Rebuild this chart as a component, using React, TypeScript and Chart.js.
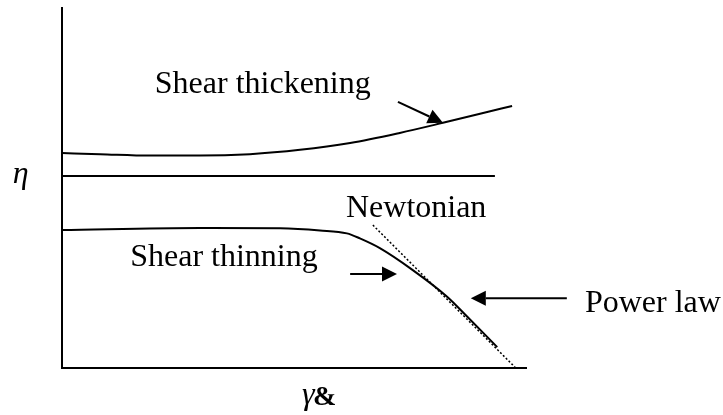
import React, { useEffect, useRef } from "react";
import { Chart, registerables } from "chart.js";

Chart.register(...registerables);

// Axes in arbitrary units: x = shear rate (0..100), y = viscosity (0..100)
const thickeningX = [0, 8.2, 19.0, 29.7, 40.5, 51.3, 62.1, 72.8, 82.1, 90.1, 97.0];
const thickeningY = [59.7, 59.4, 59.0, 59.0, 59.4, 60.6, 62.5, 65.3, 68.1, 70.6, 72.8];

const newtonianX = [0, 93.3];
const newtonianY = [53.3, 53.3];

const thinningX = [0, 29.7, 47.0, 55.6, 61.4, 64.2, 68.5, 75.6, 83.0, 87.3, 93.8];
const thinningY = [38.3, 38.9, 38.8, 38.2, 37.4, 36.0, 33.3, 27.2, 19.8, 14.3, 5.8];

const powerLawX = [67.0, 97.8];
const powerLawY = [39.7, 0];

// arrows: [fromX, fromY, toX, toY]
const arrowFromX = [72.4, 62.1, 108.8];
const arrowFromY = [73.9, 26.1, 19.4];
const arrowToX = [82.1, 72.2, 88.1];
const arrowToY = [68.1, 26.1, 19.4];

// labels
const labelTexts = ["Shear thickening", "Newtonian", "Shear thinning", "Power law"];
const labelX = [20.0, 61.2, 14.7, 112.7];
const labelY = [76.4, 41.9, 28.3, 15.6];

const yAxisSymbol = "η";
const yAxisSymbolX = -10.6;
const yAxisSymbolY = 51.4;
const xAxisSymbol = ["γ", "&"];
const xAxisSymbolX = [51.7, 54.1];
const xAxisSymbolY = [-10.0, -10.3];

const toPts = (xs: number[], ys: number[]) => xs.map((x, i) => ({ x, y: ys[i] }));

const FONT = "'Liberation Serif', 'Times New Roman', serif";

const annotations = {
  id: "annotations",
  afterDatasetsDraw(chart: any) {
    const ctx = chart.ctx as CanvasRenderingContext2D;
    const xs = chart.scales.x;
    const ys = chart.scales.y;
    ctx.save();
    ctx.strokeStyle = "#000";
    ctx.fillStyle = "#000";
    ctx.lineWidth = 2;
    for (let i = 0; i < arrowFromX.length; i++) {
      const x1 = xs.getPixelForValue(arrowFromX[i]);
      const y1 = ys.getPixelForValue(arrowFromY[i]);
      const x2 = xs.getPixelForValue(arrowToX[i]);
      const y2 = ys.getPixelForValue(arrowToY[i]);
      const ang = Math.atan2(y2 - y1, x2 - x1);
      const headLen = 15;
      const headW = 7.5;
      const bx = x2 - headLen * Math.cos(ang);
      const by = y2 - headLen * Math.sin(ang);
      ctx.beginPath();
      ctx.moveTo(x1, y1);
      ctx.lineTo(bx, by);
      ctx.stroke();
      ctx.beginPath();
      ctx.moveTo(x2, y2);
      ctx.lineTo(bx + headW * Math.sin(ang), by - headW * Math.cos(ang));
      ctx.lineTo(bx - headW * Math.sin(ang), by + headW * Math.cos(ang));
      ctx.closePath();
      ctx.fill();
    }
    ctx.textBaseline = "alphabetic";
    ctx.textAlign = "left";
    ctx.font = `32px ${FONT}`;
    for (let i = 0; i < labelTexts.length; i++) {
      ctx.fillText(labelTexts[i], xs.getPixelForValue(labelX[i]), ys.getPixelForValue(labelY[i]));
    }
    ctx.font = `italic 32px ${FONT}`;
    ctx.fillText(yAxisSymbol, xs.getPixelForValue(yAxisSymbolX), ys.getPixelForValue(yAxisSymbolY));
    ctx.font = `italic 32px ${FONT}`;
    ctx.fillText(xAxisSymbol[0], xs.getPixelForValue(xAxisSymbolX[0]), ys.getPixelForValue(xAxisSymbolY[0]));
    ctx.font = `bold 28px ${FONT}`;
    ctx.fillText(xAxisSymbol[1], xs.getPixelForValue(xAxisSymbolX[1]), ys.getPixelForValue(xAxisSymbolY[1]));
    ctx.restore();
  },
};

export default function App() {
  const ref = useRef<HTMLCanvasElement | null>(null);
  useEffect(() => {
    if (!ref.current) return;
    const line = (xs: number[], ys: number[], extra: any = {}) => ({
      data: toPts(xs, ys),
      showLine: true,
      borderColor: "#000",
      borderWidth: 2,
      pointRadius: 0,
      tension: 0.4,
      cubicInterpolationMode: "monotone",
      clip: false,
      ...extra,
    });
    const chart = new Chart(ref.current, {
      type: "scatter",
      data: {
        datasets: [
          line(thickeningX, thickeningY),
          line(newtonianX, newtonianY, { tension: 0 }),
          line(thinningX, thinningY),
          line(powerLawX, powerLawY, { tension: 0, borderWidth: 1.5, borderDash: [2, 2] }),
        ] as any,
      },
      options: {
        responsive: false,
        animation: false,
        events: [],
        layout: { padding: { left: 54, top: 8, right: 197, bottom: 39 } },
        plugins: { legend: { display: false }, tooltip: { enabled: false } },
        scales: {
          x: {
            type: "linear",
            min: 0,
            max: 100,
            grid: { display: false },
            ticks: { display: false },
            border: { display: true, color: "#000", width: 2 },
          },
          y: {
            type: "linear",
            min: 0,
            max: 100,
            grid: { display: false },
            ticks: { display: false },
            border: { display: true, color: "#000", width: 2 },
          },
        },
      } as any,
      plugins: [annotations],
    });
    return () => chart.destroy();
  }, []);
  return (
    <div style={{ position: "fixed", left: 0, top: 0, width: 723, height: 415, background: "#fff" }}>
      <canvas ref={ref} width={723} height={415} style={{ width: 723, height: 415 }} />
    </div>
  );
}
